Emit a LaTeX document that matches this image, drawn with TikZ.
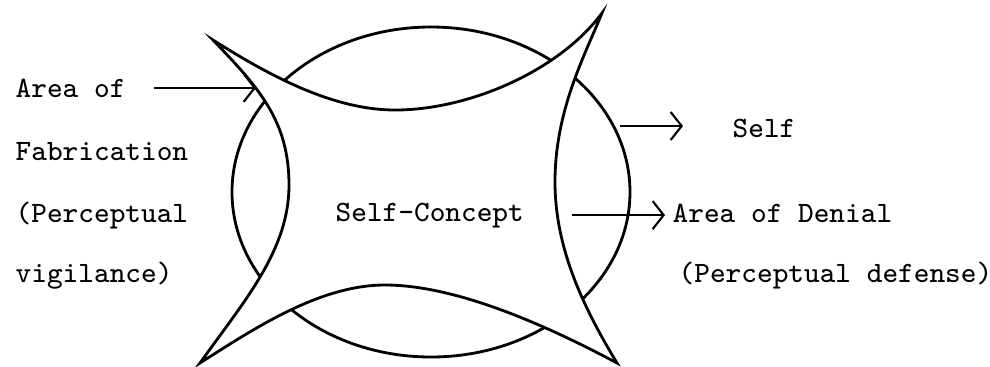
\documentclass[tikz,border=0pt]{standalone}
\usepackage{fontspec}
\usepackage{tikz}
\usetikzlibrary{arrows.meta,calc}
\tikzset{
  lbl/.style={font=\fontsize{8.4}{10}\selectfont\ttfamily,inner sep=0pt,anchor=base west},
  rim/.style={line width=0.8pt},
  arr/.style={-{Straight Barb[length=1.1mm,width=2.8mm]},line width=0.6pt}
}
\begin{document}
\begin{tikzpicture}[x=1cm,y=-1cm]
\useasboundingbox (0,0) rectangle (9.9,3.66);
% the self (circle)
\draw[rim] (4.31,1.92) ellipse [x radius=1.99, y radius=1.65];
% self-concept, drawn over it
\filldraw[rim,fill=white] (2.13,0.40) .. controls (2.73,0.78) and (3.35,1.10) .. (3.95,1.10)
  .. controls (4.70,1.10) and (5.60,0.70) .. (6.02,0.13)
  .. controls (5.85,0.55) and (5.55,1.10) .. (5.55,1.82)
  .. controls (5.55,2.50) and (5.85,3.10) .. (6.17,3.63)
  .. controls (5.55,3.30) and (4.60,2.85) .. (3.85,2.85)
  .. controls (3.20,2.85) and (2.55,3.28) .. (2.00,3.63)
  .. controls (2.45,3.00) and (2.89,2.50) .. (2.89,1.85)
  .. controls (2.89,1.20) and (2.58,0.87) .. cycle;
% labels
\node[lbl] (areaof) at (0.15,0.97) {Area of};
\node[lbl] (fabric) at (0.15,1.60) {Fabrication};
\node[lbl] (percv) at (0.15,2.22) {(Perceptual};
\node[lbl] (vigil) at (0.15,2.82) {vigilance)};
\node[lbl] (concept) at (3.35,2.21) {Self-Concept};
\node[lbl] (self) at (7.32,1.37) {Self};
\node[lbl] (denial) at (6.72,2.22) {Area of Denial};
\node[lbl] (defense) at (6.78,2.82) {(Perceptual defense)};
% arrows
\coordinate (fabtip) at (2.56,0.90);
\coordinate (selfrim) at (6.20,1.26);
\draw[arr,shorten <=2.8mm] (areaof.east) -- (areaof.east -| fabtip);
\draw[arr,shorten >=4.9mm] (selfrim) -- (selfrim -| self.west);
\draw[arr,shorten <=4.7mm,shorten >=0.7mm] (concept.east) -- (concept.east -| denial.west);
\end{tikzpicture}
\end{document}
